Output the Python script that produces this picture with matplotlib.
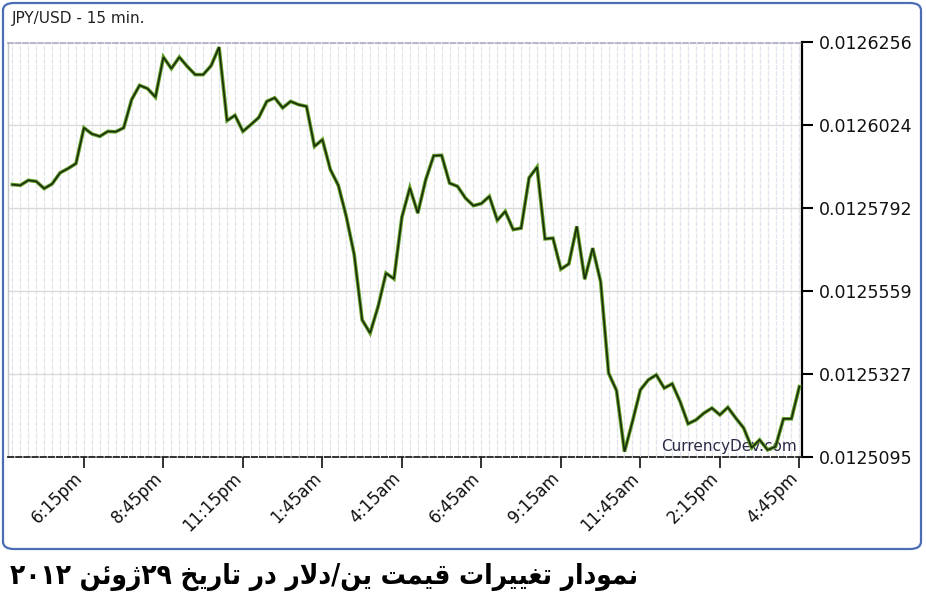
import re
import numpy as np
import pandas as pd
import matplotlib
matplotlib.use("Agg")
import matplotlib.pyplot as plt
import matplotlib.transforms as mtransforms
from matplotlib.patches import FancyBboxPatch

# ---------------- data ----------------
start_time = "2012-06-28 16:00"
prices = [
    0.0125858, 0.0125856, 0.0125870, 0.0125867, 0.0125847, 0.0125860, 0.0125891, 0.0125903, 0.0125917, 0.0126017,
    0.0126000, 0.0125993, 0.0126007, 0.0126006, 0.0126017, 0.0126096, 0.0126136, 0.0126127, 0.0126103, 0.0126215,
    0.0126183, 0.0126215, 0.0126189, 0.0126166, 0.0126166, 0.0126191, 0.0126243, 0.0126037, 0.0126052, 0.0126007,
    0.0126026, 0.0126046, 0.0126091, 0.0126101, 0.0126073, 0.0126091, 0.0126082, 0.0126077, 0.0125965, 0.0125984,
    0.0125900, 0.0125856, 0.0125769, 0.0125662, 0.0125479, 0.0125442, 0.0125516, 0.0125610, 0.0125594, 0.0125767,
    0.0125849, 0.0125778, 0.0125872, 0.0125939, 0.0125940, 0.0125862, 0.0125853, 0.0125820, 0.0125799, 0.0125805,
    0.0125825, 0.0125758, 0.0125783, 0.0125732, 0.0125736, 0.0125877, 0.0125907, 0.0125706, 0.0125708, 0.0125621,
    0.0125636, 0.0125741, 0.0125593, 0.0125680, 0.0125586, 0.0125330, 0.0125281, 0.0125110, 0.0125194, 0.0125283,
    0.0125311, 0.0125325, 0.0125288, 0.0125300, 0.0125250, 0.0125188, 0.0125199, 0.0125218, 0.0125232, 0.0125213,
    0.0125234, 0.0125204, 0.0125176, 0.0125121, 0.0125143, 0.0125115, 0.0125124, 0.0125202, 0.0125202, 0.0125292,
]
tick_labels = ["6:15pm", "8:45pm", "11:15pm", "1:45am", "4:15am",
               "6:45am", "9:15am", "11:45am", "2:15pm", "4:45pm"]
y_ticks = [0.0125095, 0.0125327, 0.0125559, 0.0125792, 0.0126024, 0.0126256]
y_tick_labels = ["0.0125095", "0.0125327", "0.0125559", "0.0125792", "0.0126024", "0.0126256"]
title = "JPY/USD - 15 min."
watermark = "CurrencyDev.com"
caption = "نمودار تغییرات قیمت ین/دلار در تاریخ ۲۹ژوئن ۲۰۱۲"

# ---------------- Persian shaping (matplotlib has no bidi/shaping) ----------------
FORMS = {
    "ا": ("\uFE8D", "\uFE8E", None, None),
    "ت": ("\uFE95", "\uFE96", "\uFE97", "\uFE98"),
    "خ": ("\uFEA5", "\uFEA6", "\uFEA7", "\uFEA8"),
    "د": ("\uFEA9", "\uFEAA", None, None),
    "ر": ("\uFEAD", "\uFEAE", None, None),
    "ژ": ("\uFB8A", "\uFB8B", None, None),
    "غ": ("\uFECD", "\uFECE", "\uFECF", "\uFED0"),
    "ق": ("\uFED5", "\uFED6", "\uFED7", "\uFED8"),
    "ل": ("\uFEDD", "\uFEDE", "\uFEDF", "\uFEE0"),
    "م": ("\uFEE1", "\uFEE2", "\uFEE3", "\uFEE4"),
    "ن": ("\uFEE5", "\uFEE6", "\uFEE7", "\uFEE8"),
    "و": ("\uFEED", "\uFEEE", None, None),
    "\u06CC": ("\uFBFC", "\uFBFD", "\uFBFE", "\uFBFF"),
    "ئ": ("\uFE89", "\uFE8A", "\uFE8B", "\uFE8C"),
}


def shape_rtl(text):
    text = text.replace("\u064A", "\u06CC")
    res = []
    n = len(text)
    i = 0
    while i < n:
        c = text[i]
        if c not in FORMS:
            res.append(c)
            i += 1
            continue
        prev = text[i - 1] if i > 0 else ""
        cp = prev in FORMS and FORMS[prev][2] is not None
        if c == "ل" and i + 1 < n and text[i + 1] == "ا":
            res.append("\uFEFC" if cp else "\uFEFB")
            i += 2
            continue
        nxt = text[i + 1] if i + 1 < n else ""
        cn = FORMS[c][2] is not None and nxt in FORMS
        iso, fin, ini, med = FORMS[c]
        if cp and cn:
            res.append(med)
        elif cp:
            res.append(fin)
        elif cn:
            res.append(ini)
        else:
            res.append(iso)
        i += 1
    vis = "".join(res)[::-1]
    vis = re.sub(r"[0-9\u06F0-\u06F9]+", lambda m: m.group(0)[::-1], vis)
    return vis


# ---------------- figure ----------------
W, H = 926, 612
fig = plt.figure(figsize=(W / 100, H / 100), dpi=100)
fig.patch.set_facecolor("white")


def fx(px):
    return px / W


def fy(py):
    return 1 - py / H


# outer rounded frame
frame = FancyBboxPatch((fx(3), fy(549)), fx(921) - fx(3), (549 - 3) / H,
                       boxstyle="round,pad=0,rounding_size=0.012",
                       transform=fig.transFigure, facecolor="white",
                       edgecolor="#4a6db5", linewidth=1.6, zorder=0)
fig.add_artist(frame)

ax = fig.add_axes([fx(8), fy(457), fx(802) - fx(8), (457 - 42.5) / H])
ax.set_facecolor("white")

x = np.arange(len(prices))
times = pd.date_range(start_time, periods=len(prices), freq="15min")
time_labels = [t.strftime("%I:%M%p").lstrip("0").lower() for t in times]
tick_pos = []
s = 0
for lab in tick_labels:
    k = time_labels.index(lab, s)
    tick_pos.append(k)
    s = k + 1

# line: green halo + dark core
ax.plot(x, prices, color="#5f9e26", lw=2.6, solid_joinstyle="miter", zorder=3)
ax.plot(x, prices, color="#1c2b0d", lw=1.15, solid_joinstyle="miter", zorder=4)

ax.set_xlim(-0.55, 99.33)
ax.set_ylim(y_ticks[0], y_ticks[-1])

ax.set_xticks(tick_pos)
ax.set_xticklabels(tick_labels)
ax.set_xticks(x, minor=True)
ax.set_yticks(y_ticks)
ax.set_yticklabels(y_tick_labels)
ax.yaxis.tick_right()

ax.grid(which="both", axis="x", color="#e1e5ee", lw=0.9, ls=(0, (4, 1)), zorder=0)
ax.grid(which="major", axis="y", color="#dadada", lw=1.0, ls="-", zorder=0)

ax.tick_params(axis="y", which="major", direction="out", length=8, width=1.5,
               color="black", pad=4, labelsize=12.5, labelcolor="#111111")
ax.tick_params(axis="x", which="major", direction="out", length=8, width=1.3,
               color="#222222", pad=4, labelsize=12, labelcolor="#111111")
ax.tick_params(axis="x", which="minor", length=0)
offset = mtransforms.ScaledTranslation(-4 / 100, -2 / 100, fig.dpi_scale_trans)
for lab in ax.get_xticklabels():
    lab.set_rotation(45)
    lab.set_ha("right")
    lab.set_va("center")
    lab.set_rotation_mode("anchor")
    lab.set_transform(lab.get_transform() + offset)

ax.spines["right"].set_color("black")
ax.spines["right"].set_linewidth(1.6)
ax.spines["left"].set_color("#c8c8cc")
ax.spines["left"].set_linewidth(1.0)
ax.spines["top"].set_color("#a9a9c2")
ax.spines["top"].set_linewidth(1.2)
ax.spines["top"].set_linestyle((0, (3, 1.5)))
ax.spines["bottom"].set_color("#222222")
ax.spines["bottom"].set_linewidth(1.3)
ax.spines["bottom"].set_linestyle((0, (3, 1.5)))

ax.text(0.9937, 0.026, watermark, transform=ax.transAxes, ha="right", va="center",
        fontsize=11, color="#2a2a48", zorder=2)

fig.text(fx(12), fy(19), title, ha="left", va="center", fontsize=11, color="#222222")

cap = fig.text(fx(10), fy(577), shape_rtl(caption), ha="left", va="center",
               fontsize=20, fontweight="bold", fontstretch="condensed",
               color="black", family=["DejaVu Sans"])
# fit caption width to target
r = fig.canvas.get_renderer()
bb = cap.get_window_extent(renderer=r)
target = 627.0
cap.set_fontsize(20 * target / bb.width)

fig.savefig("out.png", dpi=100, facecolor="white")
